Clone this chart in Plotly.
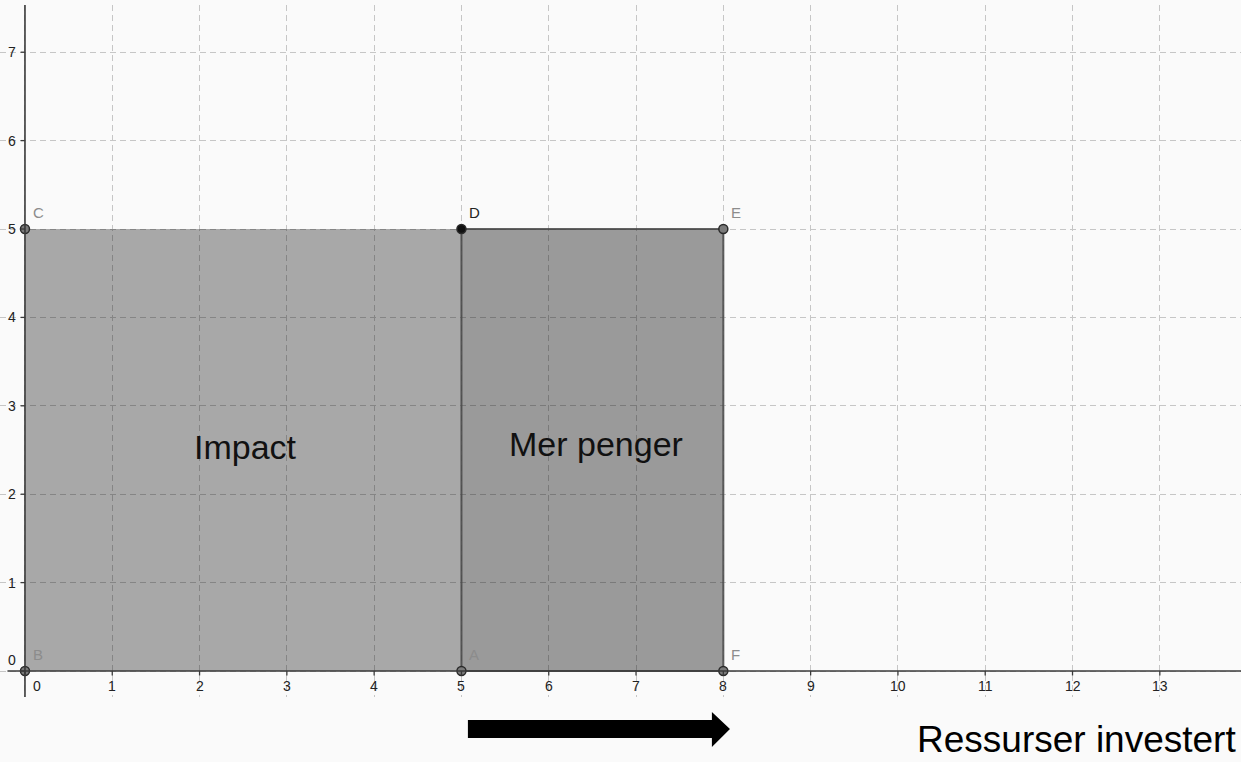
import plotly.graph_objects as go

# ---- data ----
x_ticks = list(range(0, 14))
y_ticks = list(range(0, 8))

impact_x = [0, 0, 5, 5, 0]
impact_y = [0, 5, 5, 0, 0]
penger_x = [5, 5, 8, 8, 5]
penger_y = [0, 5, 5, 0, 0]

point_names = ["B", "C", "D", "E", "A", "F"]
point_x = [0, 0, 5, 8, 5, 8]
point_y = [0, 5, 5, 5, 0, 0]
point_fill = ["#7a7a7a", "#7a7a7a", "#111111", "#7a7a7a", "#7a7a7a", "#7a7a7a"]
label_color = ["#8c8c8c", "#8c8c8c", "#222222", "#8c8c8c", "#8c8c8c", "#8c8c8c"]

area_labels = ["Impact", "Mer penger"]
area_label_x = [2.53, 6.54]
area_label_y = [2.53, 2.57]

x_title = "Ressurser investert"

# ---- layout geometry ----
W, H = 1241, 762
M_T, M_B = 5, 65
PLOT_H = H - M_T - M_B
FONT = "Arial, Liberation Sans, sans-serif"


def py_to_paper(py):
    return (H - M_B - py) / PLOT_H


fig = go.Figure()

fig.add_trace(go.Scatter(
    x=impact_x, y=impact_y, mode="lines", fill="toself",
    fillcolor="rgba(0,0,0,0.325)", line=dict(width=0), hoverinfo="skip",
    showlegend=False))
fig.add_trace(go.Scatter(
    x=penger_x, y=penger_y, mode="lines", fill="toself",
    fillcolor="rgba(0,0,0,0.385)", line=dict(width=2, color="rgba(70,70,70,0.85)"),
    hoverinfo="skip", showlegend=False))

shapes = []
# axis lines
shapes.append(dict(type="line", xref="paper", x0=0.006, x1=1, yref="y", y0=0, y1=0,
                   line=dict(color="#3a3a3a", width=1.6), layer="above"))
shapes.append(dict(type="line", xref="x", x0=0, x1=0, yref="paper", y0=0, y1=1,
                   line=dict(color="#3a3a3a", width=1.6), layer="above"))
# tick marks
for xv in x_ticks:
    shapes.append(dict(type="line", xref="x", x0=xv, x1=xv, yref="y", y0=0, y1=-0.05,
                       line=dict(color="#3a3a3a", width=1.3), layer="above"))
for yv in y_ticks:
    shapes.append(dict(type="line", xref="x", x0=0, x1=-0.05, yref="y", y0=yv, y1=yv,
                       line=dict(color="#3a3a3a", width=1.3), layer="above"))

# big black arrow below the axis
ax0, ax1, ax2 = 5.074, 7.869, 8.076
s_top, s_bot = py_to_paper(720), py_to_paper(738)
h_top, h_bot, tip = py_to_paper(712), py_to_paper(747), py_to_paper(729)
path = (f"M {ax0},{s_top} L {ax1},{s_top} L {ax1},{h_top} L {ax2},{tip} "
        f"L {ax1},{h_bot} L {ax1},{s_bot} L {ax0},{s_bot} Z")
shapes.append(dict(type="path", xref="x", yref="paper", path=path,
                   fillcolor="black", line=dict(width=0), layer="above"))

fig.add_trace(go.Scatter(
    x=point_x, y=point_y, mode="markers",
    marker=dict(size=9, color=point_fill, line=dict(color="#2a2a2a", width=1.5)),
    hoverinfo="skip", showlegend=False))

annotations = []
for xv in x_ticks:
    annotations.append(dict(x=xv, y=0, xref="x", yref="y", text=str(xv), showarrow=False,
                            xanchor="center", yanchor="top", yshift=-5,
                            xshift=12 if xv == 0 else 0,
                            font=dict(family=FONT, size=14, color="#222222")))
for yv in y_ticks:
    annotations.append(dict(x=0, y=yv, xref="x", yref="y", text=str(yv), showarrow=False,
                            xanchor="right", yanchor="middle", xshift=-7,
                            yshift=11 if yv == 0 else 0,
                            font=dict(family=FONT, size=14, color="#222222")))
for n, xv, yv, c in zip(point_names, point_x, point_y, label_color):
    annotations.append(dict(x=xv, y=yv, xref="x", yref="y", text=n, showarrow=False,
                            xanchor="left", yanchor="bottom", xshift=6, yshift=6,
                            font=dict(family=FONT, size=15, color=c)))
for t, xv, yv in zip(area_labels, area_label_x, area_label_y):
    annotations.append(dict(x=xv, y=yv, xref="x", yref="y", text=t, showarrow=False,
                            xanchor="center", yanchor="middle",
                            font=dict(family=FONT, size=34, color="#111111")))
annotations.append(dict(x=1238 / W, y=py_to_paper(762), xref="paper", yref="paper",
                        text=x_title, showarrow=False, xanchor="right", yanchor="bottom",
                        font=dict(family=FONT, size=37, color="#000000")))

grid = dict(showgrid=True, gridcolor="#c6c6c6", gridwidth=1, griddash="6px,4px",
            zeroline=False, showticklabels=False, ticks="", showline=False)

fig.update_layout(
    width=W, height=H,
    margin=dict(l=0, r=0, t=M_T, b=M_B),
    paper_bgcolor="#fafafa", plot_bgcolor="#fafafa",
    xaxis=dict(range=[-0.286, 13.93], dtick=1, tick0=0, **grid),
    yaxis=dict(range=[-0.294, 7.534], dtick=1, tick0=0, **grid),
    shapes=shapes, annotations=annotations, showlegend=False,
)

fig.write_html(
    "out.html",
    config={"displayModeBar": False},
    post_script="document.body.style.margin='0';document.body.style.overflow='hidden';"
                "document.body.style.background='#fafafa';",
)
